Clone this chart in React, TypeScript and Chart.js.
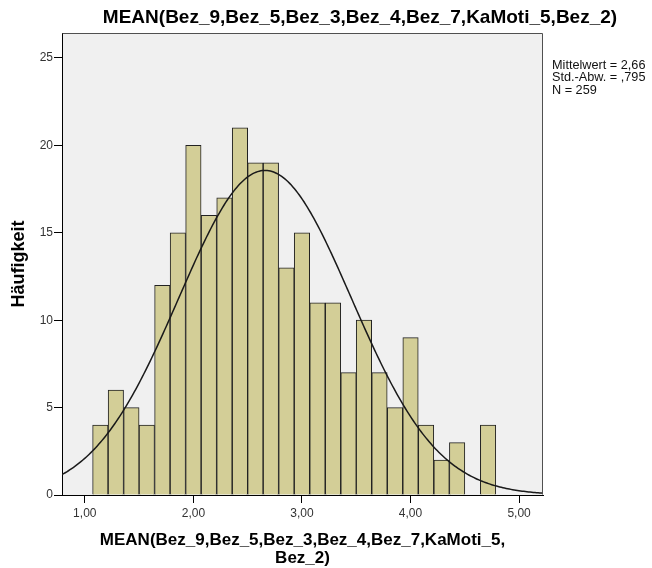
import React, { useEffect, useRef } from "react";
import { Chart, registerables } from "chart.js";

Chart.register(...registerables);

const chartTitle = "MEAN(Bez_9,Bez_5,Bez_3,Bez_4,Bez_7,KaMoti_5,Bez_2)";
const xTitleLines = ["MEAN(Bez_9,Bez_5,Bez_3,Bez_4,Bez_7,KaMoti_5,", "Bez_2)"];
const yTitle = "Häufigkeit";
const statsLines = ["Mittelwert = 2,66", "Std.-Abw. = ,795", "N = 259"];

const binCenters = [
  1.143, 1.286, 1.429, 1.571, 1.714, 1.857, 2.0, 2.143, 2.286, 2.429, 2.571, 2.714, 2.857,
  3.0, 3.143, 3.286, 3.429, 3.571, 3.714, 3.857, 4.0, 4.143, 4.286, 4.429, 4.571, 4.714,
];
const binCounts = [4, 6, 5, 4, 12, 15, 20, 16, 17, 21, 19, 19, 13, 15, 11, 11, 7, 10, 7, 5, 9, 4, 2, 3, 0, 4];
const binWidth = 1 / 7;

const meanValue = 2.66;
const sdValue = 0.795;
const nValue = 259;

const xTicks = [1, 2, 3, 4, 5];
const yTicks = [0, 5, 10, 15, 20, 25];
const xMin = 0.79;
const xMax = 5.22;
const yMin = 0;
const yMax = 26.43;

const FONT = "'Liberation Sans', Arial, Helvetica, sans-serif";

function normalCurve() {
  const pts: { x: number; y: number }[] = [];
  const peak = (nValue * binWidth) / (sdValue * Math.sqrt(2 * Math.PI));
  const steps = 300;
  for (let i = 0; i <= steps; i++) {
    const x = xMin + ((xMax - xMin) * i) / steps;
    const z = (x - meanValue) / sdValue;
    pts.push({ x, y: peak * Math.exp(-0.5 * z * z) });
  }
  return pts;
}

const decorPlugin = {
  id: "decor",
  beforeDraw(chart: any) {
    const { ctx, chartArea: a } = chart;
    ctx.save();
    ctx.fillStyle = "#f0f0f0";
    ctx.fillRect(a.left, a.top, a.right - a.left, a.bottom - a.top);
    ctx.restore();
  },
  afterDraw(chart: any) {
    const { ctx, chartArea: a } = chart;
    ctx.save();
    ctx.strokeStyle = "#505050";
    ctx.lineWidth = 1;
    const l = Math.round(a.left) + 0.5;
    const r = Math.round(a.right) - 0.5;
    const t = Math.round(a.top) + 0.5;
    const b = Math.round(a.bottom) - 0.5;
    ctx.beginPath();
    ctx.moveTo(l, t);
    ctx.lineTo(r, t);
    ctx.lineTo(r, b);
    ctx.stroke();

    ctx.fillStyle = "#000";
    ctx.font = `bold 19px ${FONT}`;
    ctx.textAlign = "center";
    ctx.textBaseline = "middle";
    ctx.fillText(chartTitle, 360, 18);

    ctx.font = `12.7px ${FONT}`;
    ctx.textAlign = "left";
    ctx.fillStyle = "#111";
    statsLines.forEach((s, i) => ctx.fillText(s, 552, 65 + i * 12.5));
    ctx.restore();
  },
};

export default function App() {
  const ref = useRef<HTMLCanvasElement | null>(null);

  useEffect(() => {
    document.body.style.margin = "0";
    if (!ref.current) return;
    const barData = binCenters.map((c, i) => ({ x: c, y: binCounts[i] }));
    const chart = new Chart(ref.current, {
      type: "bar",
      data: {
        datasets: [
          {
            type: "line",
            data: normalCurve(),
            borderColor: "#1a1a1a",
            borderWidth: 1.5,
            pointRadius: 0,
            tension: 0,
            fill: false,
            order: 0,
          } as any,
          {
            type: "bar",
            data: barData,
            backgroundColor: "#d3ce97",
            borderColor: "#222",
            borderWidth: 1,
            barPercentage: 1,
            categoryPercentage: 1,
            order: 1,
          } as any,
        ],
      },
      options: {
        animation: false,
        responsive: false,
        devicePixelRatio: 1,
        layout: { padding: { top: 33, right: 109, left: 0, bottom: 0 } },
        plugins: { legend: { display: false }, tooltip: { enabled: false }, title: { display: false } },
        scales: {
          x: {
            type: "linear",
            min: xMin,
            max: xMax,
            offset: false,
            afterBuildTicks: (s: any) => {
              s.ticks = xTicks.map((v) => ({ value: v }));
            },
            afterFit: (s: any) => {
              s.height = 73;
            },
            grid: { drawOnChartArea: false, drawTicks: true, tickLength: 8, color: "#000", offset: false },
            border: { display: true, color: "#000", width: 1 },
            ticks: {
              color: "#333",
              padding: 3,
              font: { family: FONT, size: 12 },
              maxRotation: 0,
              callback: (v: any) => Number(v).toFixed(2).replace(".", ","),
            },
            title: {
              display: true,
              text: xTitleLines,
              color: "#000",
              font: { family: FONT, size: 17, weight: "bold", lineHeight: 1.05 },
              padding: { top: 0, bottom: 1 },
            },
          },
          y: {
            type: "linear",
            min: yMin,
            max: yMax,
            afterBuildTicks: (s: any) => {
              s.ticks = yTicks.map((v) => ({ value: v }));
            },
            afterFit: (s: any) => {
              s.width = 62;
            },
            grid: { drawOnChartArea: false, drawTicks: true, tickLength: 8, color: "#000" },
            border: { display: true, color: "#000", width: 1 },
            ticks: {
              color: "#333",
              padding: 1,
              font: { family: FONT, size: 12 },
              callback: (v: any) => String(v),
            },
            title: {
              display: true,
              text: yTitle,
              color: "#000",
              font: { family: FONT, size: 18, weight: "bold", lineHeight: 1.2 },
              padding: { top: 8, bottom: 0 },
            },
          },
        },
      } as any,
      plugins: [decorPlugin],
    });
    return () => chart.destroy();
  }, []);

  return (
    <div style={{ position: "absolute", left: 0, top: 0, width: 652, height: 568 }}>
      <canvas ref={ref} width={652} height={568} style={{ display: "block", width: 652, height: 568 }} />
    </div>
  );
}
